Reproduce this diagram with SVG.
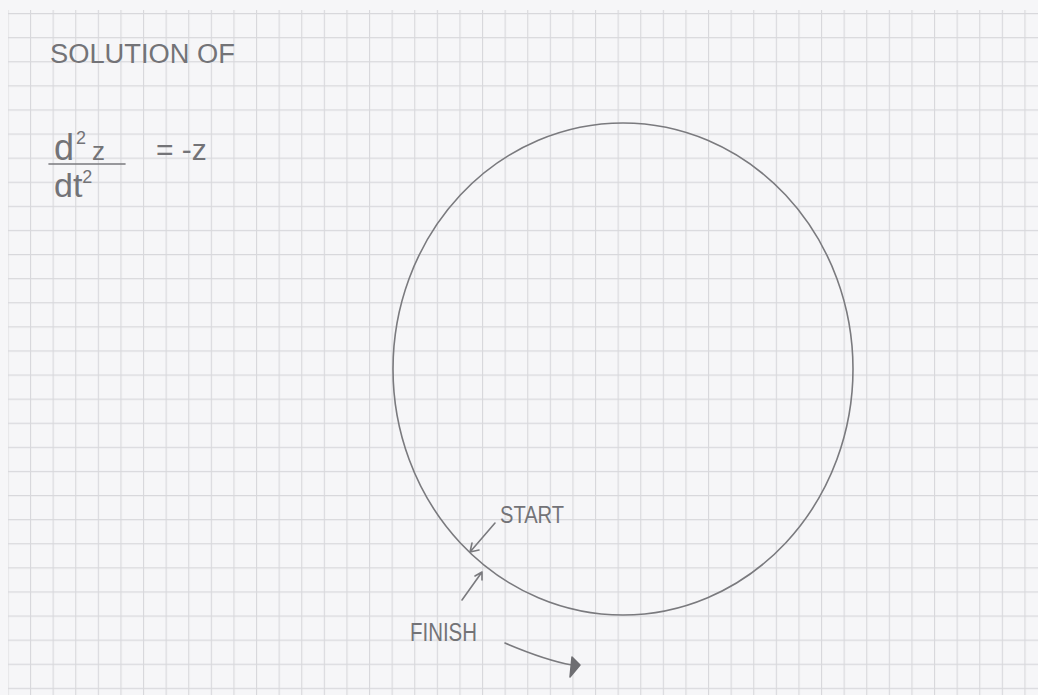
<svg xmlns="http://www.w3.org/2000/svg" width="1038" height="695" viewBox="0 0 1038 695">
<style>
.ink{fill:none;stroke:#7a7a7e;stroke-width:1.6;stroke-linecap:round;stroke-linejoin:round}
.txt{font-family:"Liberation Sans",Arial,sans-serif;fill:#737377}
</style>
<defs>
<pattern id="grid" x="7.4" y="13" width="22.6" height="24.1" patternUnits="userSpaceOnUse">
<path d="M0.5 0V24.1M0 0.5H22.6" fill="none" stroke="#d8d8dc" stroke-width="1.3"/>
</pattern>
</defs>
<rect width="1038" height="695" fill="#f6f6f8"/>
<rect x="8" y="10" width="1030" height="685" fill="url(#grid)"/>
<g id="title">
<text class="txt" x="50" y="63" font-size="27" textLength="185" lengthAdjust="spacingAndGlyphs">SOLUTION OF</text>
</g>
<g id="equation">
<text class="txt" x="54" y="160" font-size="36">d<tspan font-size="18" dy="-16" dx="2">2</tspan><tspan font-size="26" dy="16" dx="6">z</tspan></text>
<line class="ink" x1="49" y1="164" x2="125" y2="164"/>
<text class="txt" x="54" y="197" font-size="34">dt<tspan font-size="18" dy="-14">2</tspan></text>
<text class="txt" x="156" y="160" font-size="30">= -z</text>
</g>
<g id="orbit">
<ellipse class="ink" cx="623" cy="369" rx="230" ry="246"/>
</g>
<g id="connectors">
<path class="ink" d="M495 523L470 552M470 552L472 543M470 552L479 550"/>
<path class="ink" d="M462 600L482 572M482 572L475 576M482 572L482 580"/>
<path class="ink" d="M505 643Q545 660 572 665"/>
<path d="M572 657L570 677L580 665Z" fill="#6e6e72" stroke="#6e6e72" stroke-width="1.5" stroke-linejoin="round"/>
</g>
<g id="start">
<text class="txt" x="500" y="523" font-size="24" textLength="64" lengthAdjust="spacingAndGlyphs">START</text>
</g>
<g id="finish">
<text class="txt" x="410" y="641" font-size="25" textLength="67" lengthAdjust="spacingAndGlyphs">FINISH</text>
</g>
</svg>
